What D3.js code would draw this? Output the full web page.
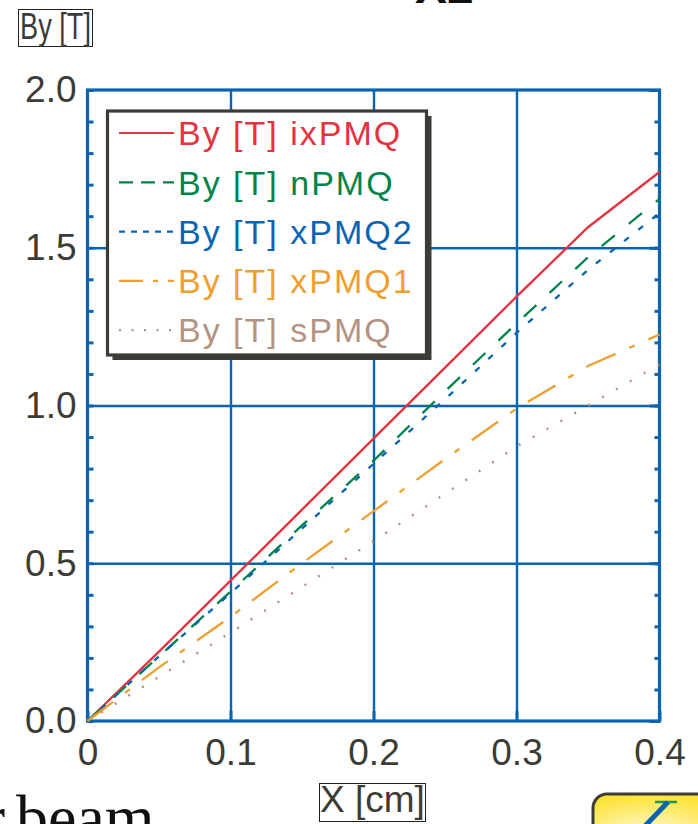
<!DOCTYPE html>
<html>
<head>
<meta charset="utf-8">
<script src="https://cdn.jsdelivr.net/npm/d3@7"></script>
<style>
  body { margin: 0; background: #fff; }
  svg { display: block; font-family: "Liberation Sans", Arial, sans-serif; }
</style>
</head>
<body>
<div id="chart"></div>
<script>
// values, X [cm] vs By [T]
var xVals   = [0, 0.05, 0.1, 0.15, 0.2, 0.25, 0.3, 0.35, 0.4];
var byIxPMQ = [0, 0.22, 0.445, 0.67, 0.895, 1.12, 1.345, 1.565, 1.74];
var byNPMQ  = [0, 0.205, 0.41, 0.62, 0.825, 1.045, 1.26, 1.47, 1.655];
var byXPMQ2 = [0, 0.205, 0.405, 0.61, 0.815, 1.02, 1.23, 1.43, 1.61];
var byXPMQ1 = [0, 0.17, 0.33, 0.5, 0.665, 0.83, 0.99, 1.125, 1.225];
var bySPMQ  = [0, 0.14, 0.28, 0.425, 0.57, 0.72, 0.87, 1.0, 1.13];

var seriesNames = ["By [T] ixPMQ", "By [T] nPMQ", "By [T] xPMQ2", "By [T] xPMQ1", "By [T] sPMQ"];
var xTicks = [0, 0.1, 0.2, 0.3, 0.4];
var yTicks = [0, 0.5, 1.0, 1.5, 2.0];
var yMinor = d3.range(0, 21).map(function(i) { return i / 10; });

var width = 698, height = 824;
var plot = {left: 87.5, right: 659.5, top: 90, bottom: 721};
var blue = "#0a64b0", ink = "#3c3c37";

var series = [
  {name: seriesNames[0], vals: byIxPMQ, color: "#e5323f", dash: null,          ldash: null},
  {name: seriesNames[1], vals: byNPMQ,  color: "#00844a", dash: "17,18",       ldash: "14,8"},
  {name: seriesNames[2], vals: byXPMQ2, color: "#0a64b0", dash: "6,12",        ldash: "6,6"},
  {name: seriesNames[3], vals: byXPMQ1, color: "#ef9f2e", dash: "32,15,6,15",  ldash: "24,10,5,10"},
  {name: seriesNames[4], vals: bySPMQ,  color: "#b39482", dash: "2,14",        ldash: "2,10.5"}
];

var svg = d3.select("#chart").append("svg")
    .attr("width", width)
    .attr("height", height);

svg.append("rect").attr("width", width).attr("height", height).attr("fill", "#fff");

var x = d3.scaleLinear().domain([0, 0.4]).range([plot.left, plot.right]);
var y = d3.scaleLinear().domain([0, 2]).range([plot.bottom, plot.top]);
var pw = plot.right - plot.left, ph = plot.bottom - plot.top;

// grid
svg.append("g")
    .attr("class", "grid")
    .attr("transform", "translate(0," + plot.bottom + ")")
    .call(d3.axisBottom(x).tickValues([0.1, 0.2, 0.3]).tickSize(-ph).tickFormat(""));
svg.append("g")
    .attr("class", "grid")
    .attr("transform", "translate(" + plot.left + ",0)")
    .call(d3.axisLeft(y).tickValues([0.5, 1.0, 1.5]).tickSize(-pw).tickFormat(""));
svg.selectAll(".grid .domain").remove();
svg.selectAll(".grid line").attr("stroke", blue).attr("stroke-width", 2.4);

// inner minor ticks
svg.append("g")
    .attr("class", "mtick")
    .attr("transform", "translate(" + plot.left + ",0)")
    .call(d3.axisLeft(y).tickValues(yMinor).tickSize(-6).tickFormat(""));
svg.append("g")
    .attr("class", "mtick")
    .attr("transform", "translate(" + plot.right + ",0)")
    .call(d3.axisRight(y).tickValues(yMinor).tickSize(-5).tickFormat(""));
svg.append("g")
    .attr("class", "mtick")
    .attr("transform", "translate(" + plot.right + ",0)")
    .call(d3.axisRight(y).tickValues(yTicks).tickSize(-10).tickFormat(""));
svg.append("g")
    .attr("class", "mtick")
    .attr("transform", "translate(0," + plot.bottom + ")")
    .call(d3.axisBottom(x).tickValues(xTicks).tickSize(-10).tickFormat(""));
svg.selectAll(".mtick .domain").remove();
svg.selectAll(".mtick line").attr("stroke", blue).attr("stroke-width", 3);

// frame
svg.append("rect")
    .attr("x", plot.left).attr("y", plot.top)
    .attr("width", pw).attr("height", ph)
    .attr("fill", "none")
    .attr("stroke", blue)
    .attr("stroke-width", 3.2);

// tick labels
svg.append("g")
    .attr("class", "lab")
    .attr("transform", "translate(" + plot.left + ",0)")
    .call(d3.axisLeft(y).tickValues(yTicks).tickSize(0).tickPadding(11).tickFormat(d3.format(".1f")));
svg.append("g")
    .attr("class", "lab")
    .attr("transform", "translate(0," + plot.bottom + ")")
    .call(d3.axisBottom(x).tickValues(xTicks).tickSize(0).tickPadding(18)
      .tickFormat(function(d) { return d === 0 ? "0" : d3.format(".1f")(d); }));
svg.selectAll(".lab .domain").remove();
svg.selectAll(".lab text")
    .attr("fill", ink)
    .style("font-size", "37px")
    .style("font-family", "'Liberation Sans', Arial, sans-serif");

// series
var line = d3.line()
    .x(function(d, i) { return x(xVals[i]); })
    .y(function(d) { return y(d); });

svg.selectAll(".series")
    .data(series)
  .enter().append("path")
    .attr("class", "series")
    .attr("d", function(d) { return line(d.vals); })
    .attr("fill", "none")
    .attr("stroke", function(d) { return d.color; })
    .attr("stroke-width", function(d, i) { return i === 4 ? 2.5 : 2.3; })
    .attr("stroke-dasharray", function(d) { return d.dash; });

// legend
var lg = svg.append("g").attr("class", "legend");
lg.append("rect")
    .attr("x", 112.5).attr("y", 116)
    .attr("width", 319).attr("height", 244)
    .attr("fill", ink);
lg.append("rect")
    .attr("x", 107.5).attr("y", 111)
    .attr("width", 319).attr("height", 244)
    .attr("fill", "#fff")
    .attr("stroke", ink)
    .attr("stroke-width", 3.2);

var rows = lg.selectAll(".row")
    .data(series)
  .enter().append("g")
    .attr("class", "row")
    .attr("transform", function(d, i) { return "translate(0," + (133 + i * 49.3) + ")"; });
rows.append("line")
    .attr("x1", 119).attr("x2", 174)
    .attr("stroke", function(d) { return d.color; })
    .attr("stroke-width", 2.2)
    .attr("stroke-dasharray", function(d) { return d.ldash; });
rows.append("text")
    .attr("x", 178)
    .attr("dy", "0.36em")
    .attr("fill", function(d) { return d.color; })
    .style("font-size", "34px")
    .style("letter-spacing", "2px")
    .text(function(d) { return d.name; });

// axis titles in thin boxes
svg.append("rect")
    .attr("x", 18.5).attr("y", 9.5).attr("width", 74).attr("height", 37)
    .attr("fill", "none").attr("stroke", "#222").attr("stroke-width", 1);
svg.append("text")
    .attr("x", 20).attr("y", 39)
    .attr("fill", ink)
    .attr("textLength", 71).attr("lengthAdjust", "spacingAndGlyphs")
    .style("font-size", "36px")
    .text("By [T]");

svg.append("rect")
    .attr("x", 319.5).attr("y", 783.5).attr("width", 106).attr("height", 38)
    .attr("fill", "none").attr("stroke", "#222").attr("stroke-width", 1);
svg.append("text")
    .attr("x", 320).attr("y", 812)
    .attr("fill", ink)
    .style("font-size", "37px")
    .text("X [cm]");

// surrounding page bits cut off at the edges
svg.append("text")
    .attr("x", 415).attr("y", 3)
    .attr("fill", "#111")
    .style("font-size", "48px")
    .style("font-weight", "bold")
    .text("X2");

svg.append("text")
    .attr("x", 16).attr("y", 839)
    .attr("fill", "#111")
    .style("font-family", "'Liberation Serif', 'DejaVu Serif', serif")
    .style("font-size", "64px")
    .text("beam");
svg.append("text")
    .attr("x", 5).attr("y", 839)
    .attr("text-anchor", "end")
    .attr("fill", "#111")
    .style("font-family", "'Liberation Serif', 'DejaVu Serif', serif")
    .style("font-size", "64px")
    .text("r");

var grad = svg.append("defs").append("radialGradient")
    .attr("id", "btn").attr("cx", "35%").attr("cy", "60%").attr("r", "60%");
grad.append("stop").attr("offset", "0%").attr("stop-color", "#fffbe0");
grad.append("stop").attr("offset", "100%").attr("stop-color", "#fde232");

svg.append("rect")
    .attr("x", 593).attr("y", 794)
    .attr("width", 160).attr("height", 70).attr("rx", 14)
    .attr("fill", "url(#btn)")
    .attr("stroke", ink).attr("stroke-width", 3);
svg.append("line")
    .attr("x1", 655).attr("x2", 677).attr("y1", 802).attr("y2", 802)
    .attr("stroke", "#1a9a5a").attr("stroke-width", 2.5);
svg.append("line")
    .attr("x1", 645).attr("x2", 668).attr("y1", 826).attr("y2", 802)
    .attr("stroke", "#0a64b0").attr("stroke-width", 5);
</script>
</body>
</html>
